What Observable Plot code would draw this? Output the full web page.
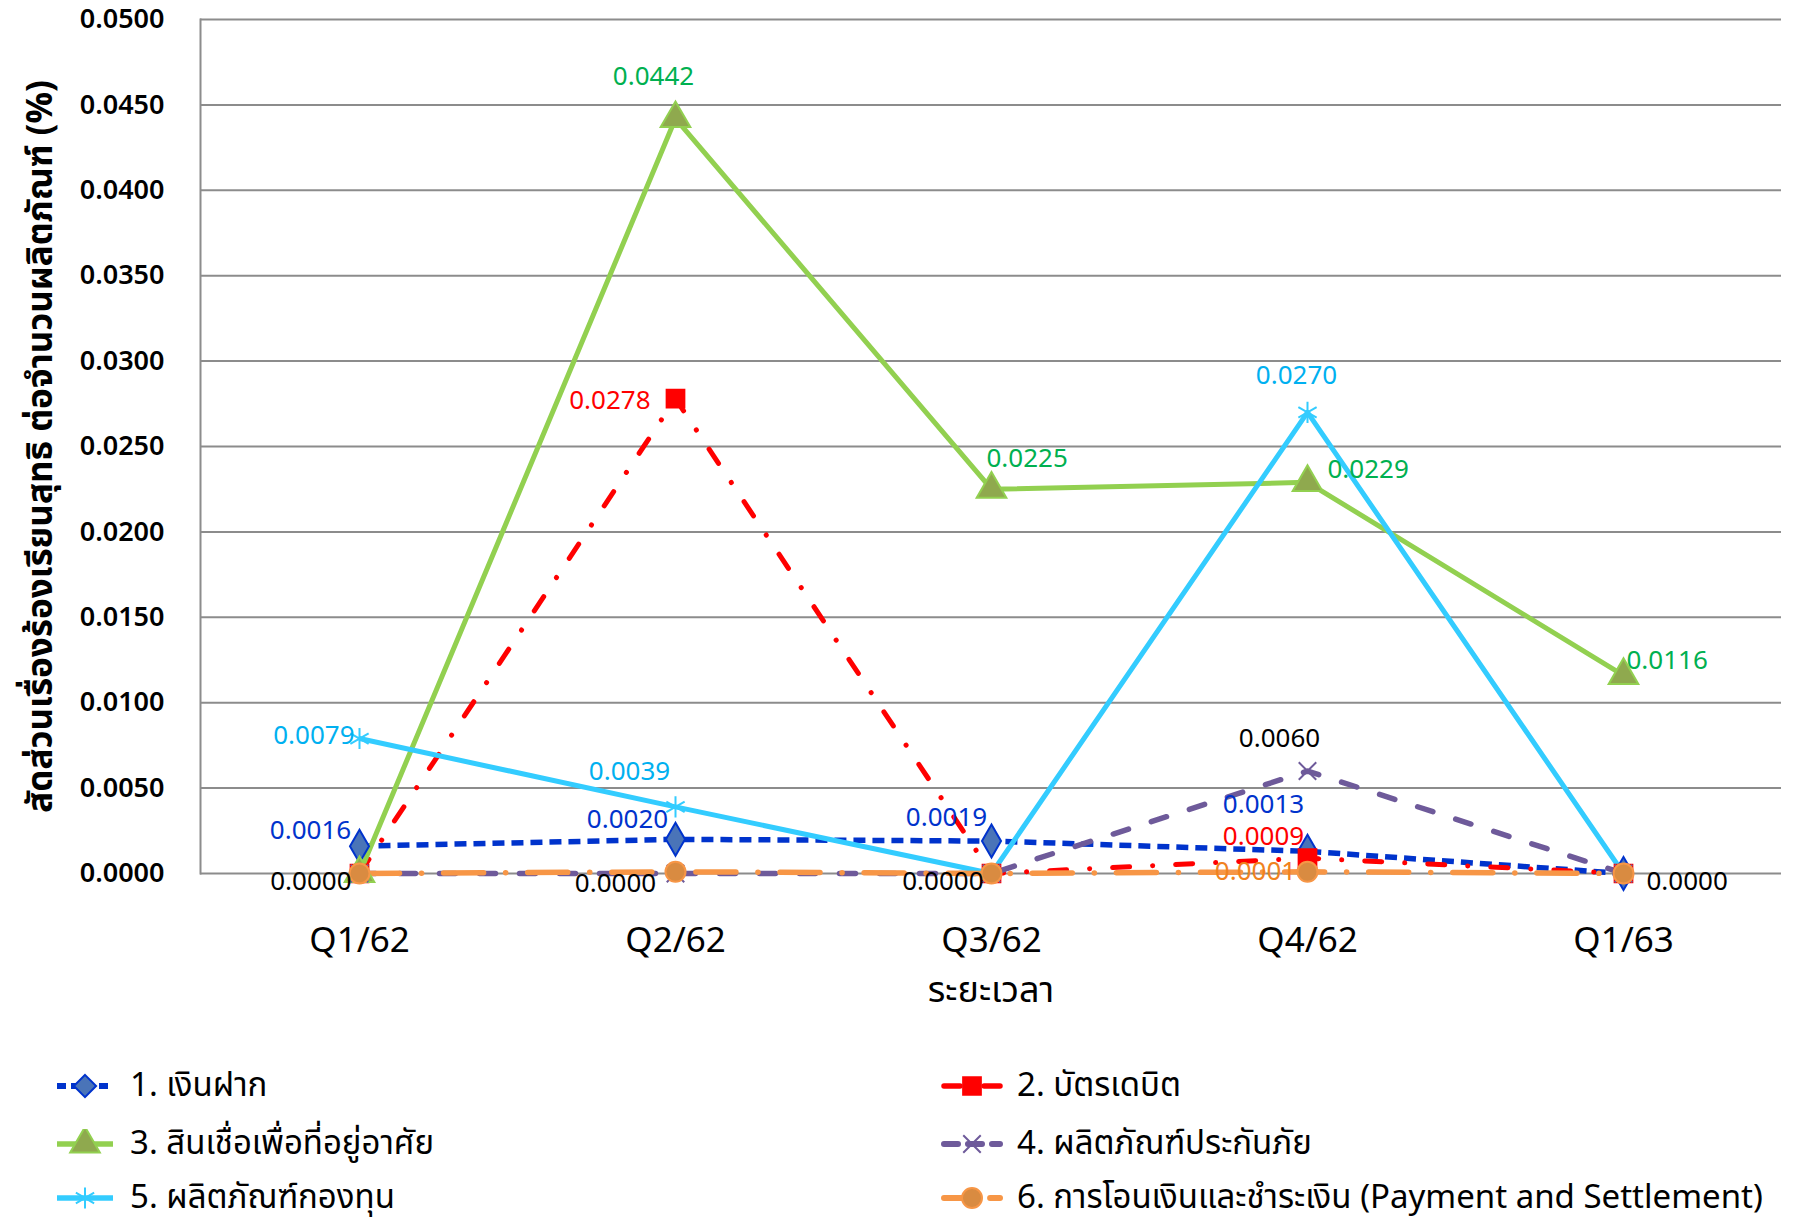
<!DOCTYPE html>
<html><head><meta charset="utf-8">
<script src="https://cdn.jsdelivr.net/npm/d3@7"></script>
<script src="https://cdn.jsdelivr.net/npm/@observablehq/plot@0.6"></script>
<style>
body{margin:0;background:#fff;font-family:"Noto Sans Thai","Noto Sans","DejaVu Sans",sans-serif;}
#wrap{position:relative;width:1817px;height:1222px;overflow:hidden;}
.leg{position:absolute;display:flex;align-items:center;font-size:33px;line-height:40px;color:#000;white-space:nowrap;height:40px;}
.leg svg{display:block;margin-right:14px;}
</style></head><body><div id="wrap"></div>
<script>
// ---- data ----
const quarters = ["Q1/62", "Q2/62", "Q3/62", "Q4/62", "Q1/63"];
const seriesNames = [
  "1. เงินฝาก",
  "2. บัตรเดบิต",
  "3. สินเชื่อเพื่อที่อยู่อาศัย",
  "4. ผลิตภัณฑ์ประกันภัย",
  "5. ผลิตภัณฑ์กองทุน",
  "6.  การโอนเงินและชำระเงิน (Payment and Settlement)"
];
const deposit     = [0.0016, 0.0020, 0.0019, 0.0013, 0.0000];
const debitCard   = [0.0000, 0.0278, 0.0000, 0.0009, 0.0000];
const housingLoan = [0.0000, 0.0442, 0.0225, 0.0229, 0.0116];
const insurance   = [0.0000, 0.0000, 0.0000, 0.0060, 0.0000];
const fund        = [0.0079, 0.0039, 0.0000, 0.0270, 0.0000];
const payment     = [0.0000, 0.0001, 0.0000, 0.0001, 0.0000];
const yTicks = [0, 0.005, 0.01, 0.015, 0.02, 0.025, 0.03, 0.035, 0.04, 0.045, 0.05];
const xTitle = "ระยะเวลา";
const yTitle = "สัดส่วนเรื่องร้องเรียนสุทธิ ต่อจำนวนผลิตภัณฑ์ (%)";

// ---- styles (separate from data) ----
const seriesValues = [deposit, debitCard, housingLoan, insurance, fund, payment];
const styles = [
  {stroke:"#0033CC", width:5.5, dash:"12,7", cap:"butt", symbol:"diamond", r:10, fill:"#4A74B8", mstroke:"#0033CC", label:"#0033CC", ldash:"9,5"},
  {stroke:"#FF0000", width:5, dash:"17,23,0.1,23", cap:"round", symbol:"square", r:10, fill:"#FF0000", mstroke:"#FF0000", label:"#FF0000", ldash:"16,12,0.1,12"},
  {stroke:"#92D050", width:5, dash:null, cap:"butt", symbol:"triangle", r:11, fill:"#8FA94E", mstroke:"#92D050", label:"#00B050", ldash:null},
  {stroke:"#6E5A9A", width:5.5, dash:"16,24", cap:"round", symbol:"times", r:8, fill:"none", mstroke:"#6E5A9A", label:"#000000", ldash:"14,10"},
  {stroke:"#33CCFF", width:5, dash:null, cap:"butt", symbol:"asterisk", r:10, fill:"none", mstroke:"#33CCFF", label:"#00B0F0", ldash:null},
  {stroke:"#F79646", width:5.5, dash:"40,22,0.1,22", cap:"round", symbol:"circle", r:10, fill:"#D98B41", mstroke:"#F79646", label:"#F0821E", ldash:"22,12,0.1,12"}
];
// label placement: [series index, quarter index, dx, dy, anchor]
const labelPlacement = [
  [2,1,-22,-42,"middle"], [1,1,-25,2,"end"], [2,2,-5,-31,"start"], [2,3,20,-13,"start"], [2,4,3,-15,"start"],
  [4,3,-11,-37,"middle"], [4,0,-5,-3,"end"], [4,1,-46,-35,"middle"],
  [0,0,-49,-16,"middle"], [0,1,-48,-20,"middle"], [0,2,-45,-23,"middle"], [0,3,-44,-47,"middle"],
  [1,3,-44,-21,"middle"], [3,3,-28,-32,"middle"], [5,3,-52,0,"middle"],
  [3,0,-8,8,"end"], [3,1,-60,10,"middle"], [3,2,-8,8,"end"], [3,4,23,8,"start"]
];

const rows = [];
seriesValues.forEach((vals, si) => vals.forEach((v, qi) => rows.push({s: si, q: quarters[qi], v})));

const fmt = d3.format(".4f");
const font = '"Noto Sans Thai","Noto Sans","DejaVu Sans",sans-serif';
const marks = [
  Plot.gridY(yTicks, {stroke:"#8c8c8c", strokeOpacity:1, strokeWidth:2}),
  Plot.frame({anchor:"left", stroke:"#8c8c8c", strokeWidth:2}),
  Plot.axisY(yTicks, {tickSize:0, tickPadding:36, tickFormat:fmt, fontSize:27, fontWeight:600, label:null}),
  Plot.axisX({tickSize:0, tickPadding:54, fontSize:35, label:null}),
  Plot.text([xTitle], {frameAnchor:"bottom", dy:128, fontSize:36, fill:"#000"}),
  Plot.text([yTitle], {frameAnchor:"left", textAnchor:"middle", dx:-160, rotate:-90, fontSize:35, fontWeight:700, fill:"#000"})
];
styles.forEach((st, si) => {
  marks.push(Plot.line(rows.filter(d => d.s === si), {x:"q", y:"v", stroke:st.stroke, strokeWidth:st.width,
    strokeDasharray:st.dash || undefined, strokeLinecap:st.cap}));
});
styles.forEach((st, si) => {
  marks.push(Plot.dot(rows.filter(d => d.s === si), {x:"q", y:"v", symbol:st.symbol, r:st.r, fill:st.fill,
    stroke:st.mstroke, strokeWidth:2}));
});
labelPlacement.forEach(([si, qi, dx, dy, anchor]) => {
  const d = rows.find(r => r.s === si && r.q === quarters[qi]);
  marks.push(Plot.text([d], {x:"q", y:"v", text: r => fmt(r.v), dx, dy, textAnchor:anchor,
    fill:styles[si].label, fontSize:26}));
});

const chart = Plot.plot({
  width:1817, height:1020,
  marginLeft:200, marginRight:36, marginTop:19, marginBottom:147,
  x:{type:"point", domain:quarters, padding:0.5},
  y:{domain:[0, 0.05]},
  style:{fontFamily:font, background:"white", color:"#000"},
  marks
});
const wrap = document.getElementById("wrap");
wrap.appendChild(chart);

// ---- legend ----
const legendPos = [[54,1086],[941,1086],[54,1144],[941,1144],[54,1198],[941,1198]];
seriesNames.forEach((name, si) => {
  const st = styles[si];
  const div = document.createElement("div");
  div.className = "leg";
  div.style.left = legendPos[si][0] + "px";
  div.style.top = (legendPos[si][1] - 20) + "px";
  const w = 62, h = 30;
  const svg = d3.create("svg").attr("width", w).attr("height", h);
  svg.append("line").attr("x1", 3).attr("x2", w - 3).attr("y1", h/2).attr("y2", h/2)
    .attr("stroke", st.stroke).attr("stroke-width", st.width + 0.5)
    .attr("stroke-dasharray", st.ldash)
    .attr("stroke-linecap", st.cap);
  const sym = {diamond:d3.symbolDiamond2, square:d3.symbolSquare, triangle:d3.symbolTriangle,
    times:d3.symbolTimes, asterisk:d3.symbolAsterisk, circle:d3.symbolCircle}[st.symbol];
  svg.append("path").attr("transform", `translate(${w/2},${h/2})`)
    .attr("d", d3.symbol(sym, Math.PI * st.r * st.r)())
    .attr("fill", st.fill).attr("stroke", st.mstroke).attr("stroke-width", 2);
  div.appendChild(svg.node());
  const span = document.createElement("span");
  span.textContent = name;
  div.appendChild(span);
  wrap.appendChild(div);
});
</script>
</body></html>
